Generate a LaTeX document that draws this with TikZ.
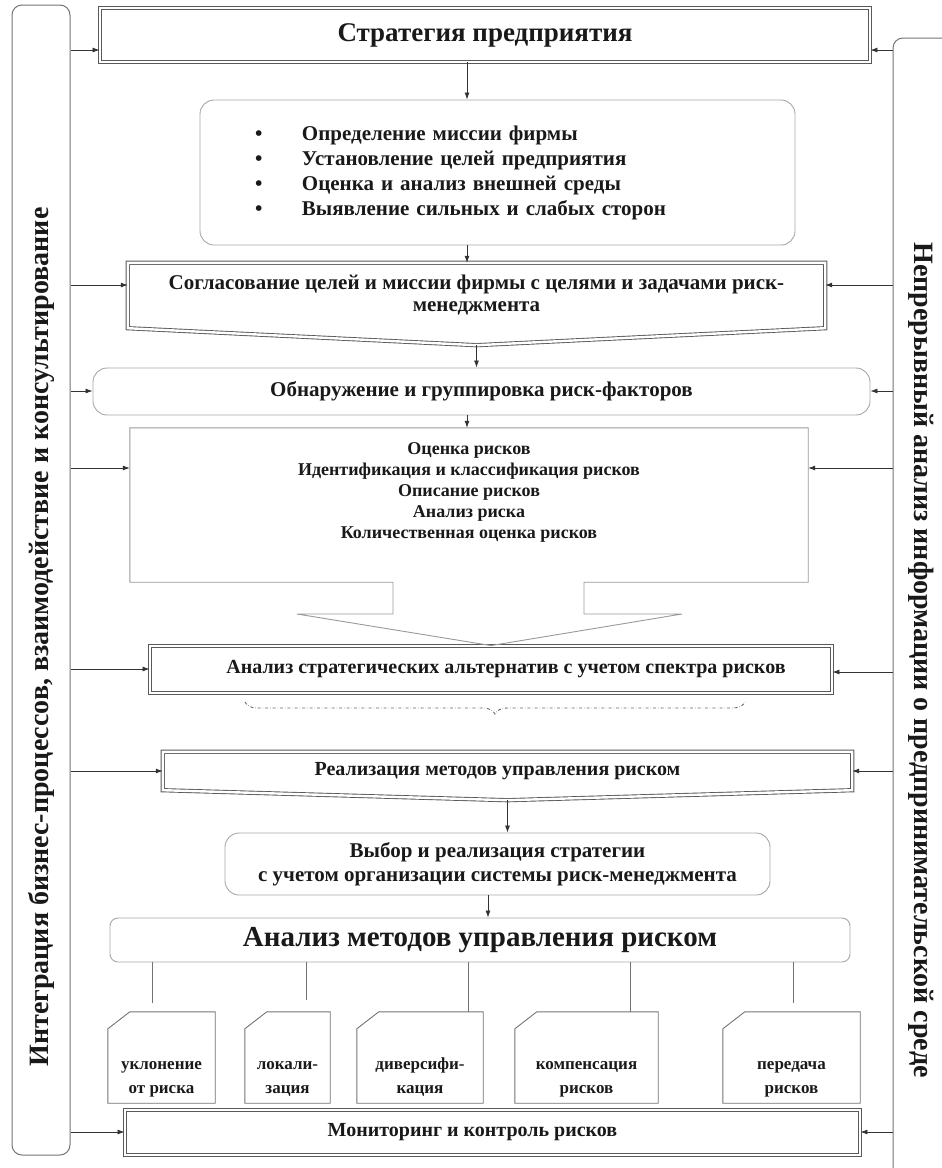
\documentclass[tikz,border=0pt]{standalone}
\usepackage{fontspec}
\setmainfont{Liberation Serif}
\usetikzlibrary{arrows.meta,decorations.pathreplacing}
\newcommand{\fsz}[2]{\fontsize{#1}{#2}\selectfont}
\newcommand{\tabtext}[2]{\rule{0pt}{54pt}#1\\#2\rule[-6pt]{0pt}{6pt}}

\begin{document}
\begin{tikzpicture}[x=1pt, y=-1pt,
  every node/.style = {font=\bfseries, align=center, text=black!90},
  framed/.style = {draw=black!65, double, double distance=2.4pt, line width=0.9pt},
  soft/.style = {draw=black!35, rounded corners=14pt, line width=0.9pt},
  plain/.style = {draw=black!40, line width=0.9pt},
  bar/.style = {draw=black!55, rounded corners=10pt, line width=1pt},
  tab/.style = {minimum height=91pt, inner sep=0pt, font=\bfseries\fsz{17}{24}},
  link/.style = {-{Latex[length=7pt,width=5pt]}, draw=black!80, line width=0.8pt},
  stem/.style = {draw=black!55, line width=0.9pt}]
  \useasboundingbox (0,0) rectangle (942,1168);

  \node[bar, minimum width=58pt, minimum height=1150pt] (integr) at (41,580) {};
  \node[rotate=90, font=\bfseries\fsz{28}{30}] (integrtext) at (41,637)
    {Интеграция бизнес-процессов, взаимодействие и консультирование};
  \node[bar, minimum width=80pt, minimum height=1170pt] (info) at (933,623) {};
  \node[rotate=-90, font=\bfseries\fsz{28}{30}] (infotext) at (921,660)
    {Непрерывный анализ информации о предпринимательской среде};

  \node[framed, minimum width=770pt, minimum height=54pt, font=\bfseries\fsz{27}{30}]
    (strat) at (485,35) {Стратегия предприятия};

  \node[soft, text width=485pt, inner xsep=55pt, minimum height=145pt, align=left,
    font=\bfseries\fsz{21}{25}] (goals) at (497.5,172.5) {%
    \begin{tabular}{@{}p{47pt}@{}l@{}}
    \textbullet & Определение миссии фирмы\\
    \textbullet & Установление целей предприятия\\
    \textbullet & Оценка и анализ внешней среды\\
    \textbullet & Выявление сильных и слабых сторон
    \end{tabular}};

  \node[minimum width=697pt, minimum height=65pt, font=\bfseries\fsz{21}{22}]
    (agree) at (476.5,295.5)
    {Согласование целей и миссии фирмы с целями и задачами риск-\\менеджмента};
  \coordinate (agreetip) at ([yshift=-17pt]agree.south);
  \draw[framed] (agree.north west) -- (agree.north east) -- (agree.south east)
    -- (agreetip) -- (agree.south west) -- cycle;

  \node[soft, minimum width=777pt, minimum height=47pt, font=\bfseries\fsz{21}{24}]
    (factors) at (481.5,391.5) {Обнаружение и группировка риск-факторов};

  \node[minimum width=678pt, minimum height=154pt, font=\bfseries\fsz{18}{21}]
    (assess) at (469,505) {Оценка рисков\\Идентификация и классификация рисков\\
    Описание рисков\\Анализ риска\\Количественная оценка рисков\rule[-29pt]{0pt}{29pt}};

  \node[framed, minimum width=682pt, minimum height=47pt, font=\bfseries\fsz{20}{24}]
    (alter) at (491,669.5) {\hspace*{30pt}Анализ стратегических альтернатив с учетом спектра рисков};

  \draw[plain] (assess.south -| 393,0) -- (assess.south west) -- (assess.north west)
    -- (assess.north east) -- (assess.south east) -- (assess.south -| 584,0)
    -- (584,614) -- (682,614) -- (alter.north) -- (297,614) -- (393,614) -- cycle;
  \draw[black!60, dash dot, line width=0.9pt, decorate,
    decoration={brace, mirror, amplitude=12pt}] (245,702) -- (745,702);

  \node[minimum width=689pt, minimum height=38pt, font=\bfseries\fsz{20}{22}]
    (realize) at (507.5,771) {Реализация методов управления риском\hspace*{20pt}};
  \coordinate (realizetip) at ([yshift=-10pt]realize.south);
  \draw[framed] (realize.north west) -- (realize.north east) -- (realize.south east)
    -- (realizetip) -- (realize.south west) -- cycle;

  \node[soft, minimum width=545pt, minimum height=62pt, font=\bfseries\fsz{21}{24}]
    (choice) at (497.5,864) {Выбор и реализация стратегии\\с учетом организации системы риск-менеджмента};
  \node[soft, rounded corners=8pt, minimum width=740pt, minimum height=44pt,
    font=\bfseries\fsz{29}{30}] (methods) at (480,940) {Анализ методов управления риском};

  \node[tab, minimum width=107pt] (m1) at (161.5,1057.5) {\tabtext{уклонение}{от риска}};
  \node[tab, minimum width=85pt] (m2) at (287.5,1057.5) {\tabtext{локали-}{зация}};
  \node[tab, minimum width=126pt] (m3) at (420,1057.5) {\tabtext{диверсифи-}{кация}};
  \node[tab, minimum width=143pt] (m4) at (586.5,1057.5) {\tabtext{компенсация}{рисков}};
  \node[tab, minimum width=137pt] (m5) at (791.5,1057.5) {\tabtext{передача}{рисков}};
  \foreach \b in {m1,m2,m3,m4,m5}
    \draw[stem] ([yshift=-17pt]\b.north west) -- ([xshift=22pt]\b.north west)
      -- (\b.north east) -- (\b.south east) -- (\b.south west) -- cycle;

  \node[framed, minimum width=735pt, minimum height=45pt, font=\bfseries\fsz{20}{24}]
    (monitor) at (492.5,1132.5) {Мониторинг и контроль рисков\hspace*{40pt}};

  \draw[link] (strat.south -| 467,0) -- (goals.north -| 467,0);
  \draw[link] (goals.south -| 467,0) -- (agree.north -| 467,0);
  \draw[link] (agreetip) -- (factors.north -| agreetip);
  \draw[link] (factors.south -| 467,0) -- (assess.north -| 467,0);
  \draw[link] (realizetip) -- (choice.north -| realizetip);
  \draw[link] (choice.south -| 488,0) -- (methods.north -| 488,0);
  \foreach \lx/\b/\gap in {152/m1/9, 306/m2/12, 468/m3/0, 630/m4/0, 793/m5/9}
    \draw[stem, shorten >=\gap pt] (methods.south -| \lx,0) -- (\b.north -| \lx,0);

  \foreach \y/\n in {50/strat, 285/agree, 391/factors, 468/assess, 669/alter, 771/realize, 1132/monitor}
    \draw[link] (integr.east |- 0,\y) -- (\n.west |- 0,\y);
  \foreach \y/\n in {50/strat, 285/agree, 391/factors, 468/assess, 672/alter, 771/realize, 1132/monitor}
    \draw[link] (info.west |- 0,\y) -- (\n.east |- 0,\y);
\end{tikzpicture}
\end{document}
